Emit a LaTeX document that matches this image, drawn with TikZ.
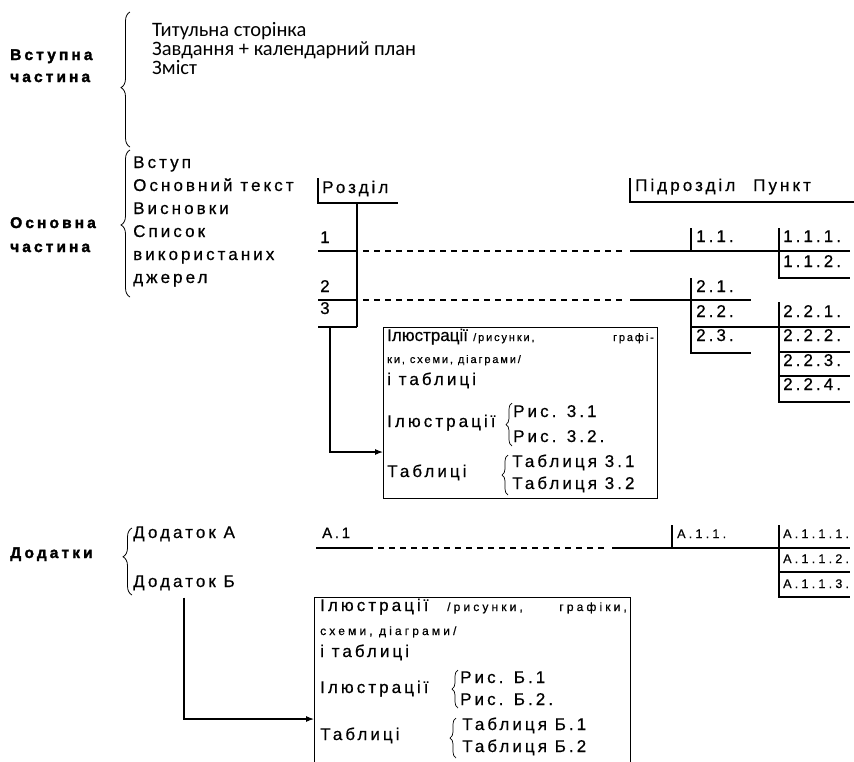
\documentclass[tikz,border=0pt]{standalone}
\usepackage{fontspec}
\setmainfont{Liberation Sans}
\newfontfamily\arsp[LetterSpace=18, FakeBold=0.6]{Liberation Sans}
\newfontfamily\arplain[FakeBold=0.6]{Liberation Sans}
\newfontfamily\arcode[LetterSpace=26, FakeBold=0.5]{Liberation Sans}
\newfontfamily\arbd[LetterSpace=20, FakeBold=2]{Liberation Sans Bold}
\newfontfamily\arsm[LetterSpace=17, FakeBold=0.6]{Liberation Sans}
\newfontfamily\arsmw[LetterSpace=26, FakeBold=0.6]{Liberation Sans}
\newfontfamily\titlefnt{Carlito}
\usetikzlibrary{arrows.meta, positioning, calc, decorations.pathreplacing}

\begin{document}
\begin{tikzpicture}[
    x=1pt, y=-1pt,
    lbl/.style={font={\arsp\fontsize{17}{19}\selectfont}, inner sep=0pt, anchor=base west},
    plainlbl/.style={font={\arplain\fontsize{17}{19}\selectfont}, inner sep=0pt, anchor=base west},
    head/.style={font={\arbd\fontsize{15.5}{18}\selectfont}, inner sep=0pt, anchor=base west},
    title/.style={font={\titlefnt\fontsize{20.5}{24}\selectfont}, inner sep=0pt, anchor=base west},
    tiny/.style={font={\arsm\fontsize{11}{13}\selectfont}, inner sep=0pt, anchor=base west},
    tinywide/.style={font={\arsmw\fontsize{12}{14}\selectfont}, inner sep=0pt, anchor=base west},
    code/.style={font={\arcode\fontsize{12.5}{14}\selectfont}, inner sep=0pt, anchor=base west},
    rule/.style={line width=1.1pt},
    dashline/.style={line width=1.1pt, dash pattern=on 6pt off 5pt},
    bigbrace/.style={decorate, decoration={brace, amplitude=9pt, aspect=#1}, line width=0.8pt},
    bigbrace/.default=0.5,
    smallbrace/.style={decorate, decoration={brace, amplitude=6pt}, line width=0.7pt},
    arrow/.style={-{Latex[length=8pt,width=6pt]}, line width=1.1pt},
    frame/.style={draw, line width=1.1pt, inner sep=0pt, anchor=north west}
]
\useasboundingbox (0,0) rectangle (854,761);
\clip (0,0) rectangle (854,761);

% Вступна частина
\node[head] (vst1) at (10,60) {Вступна};
\node[head] (vst2) at (10,82) {частина};
\draw[bigbrace=0.44] (130,147) -- (130,12);
\node[title] (t1) at (152,36) {Титульна сторінка};
\node[title] (t2) at (152,55) {Завдання + календарний план};
\node[title] (t3) at (152,74) {Зміст};

% Основна частина
\node[head] (osn1) at (10,228) {Основна};
\node[head] (osn2) at (10,252) {частина};
\draw[bigbrace=0.49] (130,297) -- (130,150);
\foreach \t [count=\i] in {Вступ, Основний текст, Висновки, Список, використаних, джерел}
  \node[lbl] (m\i) at (133,145+23*\i) {\t};

% Розділ column
\node[lbl] (rozd) at (322,193) {Розділ};
\draw[rule] (318,178) |- (398,203);
\draw[rule] (357,203) -- (357,327);
\node[lbl] (r1) at (320,243) {1};
\node[lbl] (r2) at (320,292) {2};
\node[lbl] (r3) at (320,314) {3};
\draw[rule] (318,251) -- (357,251);
\draw[rule] (318,300) -- (357,300);
\draw[rule] (318,327) -- (357,327);
\draw[dashline] (363,251) -- (623,251);
\draw[dashline] (363,300) -- (623,300);
\draw[rule] (630,251) -- (850,251);
\draw[rule] (630,300) -- (751,300);

% Підрозділ / Пункт header
\node[lbl] (pidr) at (635,191) {Підрозділ};
\node[lbl] (punkt) at (753,191) {Пункт};
\draw[rule] (630,178) |- (854,202);

% 1.x
\draw[rule] (691,228) -- (691,251);
\node[lbl] (s11) at (696,242) {1.1.};
\draw[rule] (779,228) |- (850,278);
\node[lbl] (p111) at (783,242) {1.1.1.};
\node[lbl] (p112) at (783,267) {1.1.2.};

% 2.x
\draw[rule] (691,278) |- (751,353);
\draw[rule] (691,327) -- (850,327);
\node[lbl] (s21) at (696,292) {2.1.};
\node[lbl] (s22) at (696,317) {2.2.};
\node[lbl] (s23) at (696,341) {2.3.};
\draw[rule] (779,302) |- (850,402);
\draw[rule] (779,352) -- (850,352);
\draw[rule] (779,376) -- (850,376);
\node[lbl] (p221) at (783,317) {2.2.1.};
\node[lbl] (p222) at (783,341) {2.2.2.};
\node[lbl] (p223) at (783,366) {2.2.3.};
\node[lbl] (p224) at (783,390) {2.2.4.};

% Box for section 3
\node[frame, minimum width=274pt, minimum height=171pt] (box3) at (383,327) {};
\node[plainlbl] (il3a) at (387,341) {Ілюстрації};
\node[tiny] (ris3a) at (473,341) {/рисунки,};
\node[tiny, anchor=base east] (gr3a) at (654,341) {графі-};
\node[tiny] (sx3) at (387,363) {ки, схеми, діаграми/};
\node[lbl] (tb3a) at (387,385) {і таблиці};
\node[lbl] (il3b) at (387,427) {Ілюстрації};
\draw[smallbrace] (512,446) -- (512,403);
\node[lbl] (ris31) at (513,417) {Рис. 3.1};
\node[lbl] (ris32) at (513,442) {Рис. 3.2.};
\node[lbl] (tb3b) at (387,477) {Таблиці};
\draw[smallbrace] (508,495) -- (508,455);
\node[lbl] (tab31) at (512,467) {Таблиця 3.1};
\node[lbl] (tab32) at (512,489) {Таблиця 3.2};
\coordinate (c3) at (330,327);
\draw[arrow] (c3) |- ([yshift=-125pt]box3.north west);

% Додатки
\node[head] (dod) at (10,558) {Додатки};
\draw[bigbrace=0.57] (132,595) -- (132,528);
\node[lbl] (dodA) at (133,538) {Додаток А};
\node[lbl] (dodB) at (133,587) {Додаток Б};

% A.x row
\node[lbl, font={\arsp\fontsize{15}{17}\selectfont}] (a1) at (322,538) {A.1};
\draw[rule] (316,548) -- (373,548);
\draw[dashline] (378,548) -- (606,548);
\draw[rule] (612,548) -- (850,548);
\draw[rule] (672,525) -- (672,548);
\node[code] (a11) at (677,538) {A.1.1.};
\draw[rule] (779,525) |- (850,597);
\draw[rule] (779,572) -- (850,572);
\node[code] (a111) at (783,538) {A.1.1.1.};
\node[code] (a112) at (783,563) {A.1.1.2.};
\node[code] (a113) at (783,588) {A.1.1.3.};

% Box for appendix Б
\node[frame, minimum width=316pt, minimum height=200pt] (boxB) at (314,597) {};
\node[lbl] (ilBa) at (320,611) {Ілюстрації};
\node[tinywide] (risBa) at (447,611) {/рисунки,};
\node[tinywide, anchor=base east] (grBa) at (627,611) {графіки,};
\node[tinywide] (sxB) at (320,635) {схеми, діаграми/};
\node[lbl] (tbBa) at (320,657) {і таблиці};
\node[lbl] (ilBb) at (320,693) {Ілюстрації};
\draw[smallbrace] (458,708) -- (458,670);
\node[lbl] (risB1) at (460,683) {Рис. Б.1};
\node[lbl] (risB2) at (460,705) {Рис. Б.2.};
\node[lbl] (tbBb) at (320,740) {Таблиці};
\draw[smallbrace] (456,758) -- (456,718);
\node[lbl] (tabB1) at (462,730) {Таблиця Б.1};
\node[lbl] (tabB2) at (462,752) {Таблиця Б.2};
\draw[arrow] ([yshift=-7pt]dodB.south) |- ([yshift=-122pt]boxB.north west);

\end{tikzpicture}
\end{document}
